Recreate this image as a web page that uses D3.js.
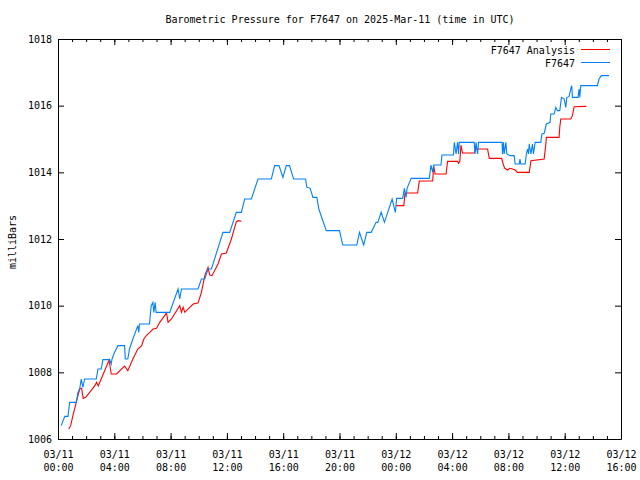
<!DOCTYPE html>
<html><head><meta charset="utf-8">
<script src="https://cdn.jsdelivr.net/npm/d3@7"></script>
<style>
body{margin:0;background:#fff}
text{font-family:"DejaVu Sans Mono",monospace;font-size:10px;fill:#000}
</style>
</head><body>
<svg id="c" width="640" height="480"></svg>
<script>
const titleText = "Barometric Pressure for F7647 on 2025-Mar-11 (time in UTC)";
const yLabel = "milliBars";
const seriesNames = ["F7647 Analysis", "F7647"];
const seriesColors = ["#ff0000", "#0080ff"];

// hours since 03/11 00:00 UTC
const majorHours = [0, 4, 8, 12, 16, 20, 24, 28, 32, 36, 40];
const majorDates = ["03/11","03/11","03/11","03/11","03/11","03/11","03/12","03/12","03/12","03/12","03/12"];
const majorTimes = ["00:00","04:00","08:00","12:00","16:00","20:00","00:00","04:00","08:00","12:00","16:00"];
const minorHours = d3.range(0, 41, 1);
const yTicks = [1006, 1008, 1010, 1012, 1014, 1016, 1018];

// F7647 observed
const stationHours = [0.23,0.48,0.71,0.83,1.30,1.42,1.54,1.65,1.77,1.89,2.72,2.84,3.07,3.19,3.67,3.78,3.84,4.02,4.26,4.73,4.78,4.96,5.08,5.32,5.67,5.74,5.79,6.50,6.62,6.74,6.81,6.90,6.97,7.94,8.53,8.65,8.77,9.95,10.19,10.43,10.66,10.90,11.72,12.20,12.67,13.03,13.26,13.74,14.21,15.16,15.39,15.70,15.98,16.22,16.45,16.74,17.59,17.68,17.92,18.11,18.39,18.53,19.06,20.00,20.23,21.23,21.42,21.72,21.94,22.25,22.60,22.72,22.96,23.19,23.74,23.97,24.06,24.49,24.61,24.73,24.80,25.09,26.38,26.50,26.62,26.69,27.21,27.28,28.09,28.16,28.28,28.39,28.46,28.51,29.57,29.62,29.70,29.81,29.88,31.55,31.58,31.65,31.70,31.82,31.89,32.13,32.41,32.48,32.77,32.82,32.88,33.19,33.28,33.36,33.43,33.48,33.60,33.71,33.78,33.90,34.30,34.38,34.54,34.70,34.96,35.01,35.25,35.37,35.48,35.65,35.77,35.96,36.08,36.15,36.31,36.43,36.50,36.55,36.95,37.02,37.07,37.14,38.32,38.44,38.60,39.15];
const stationValues = [1006.40,1006.68,1006.68,1007.10,1007.10,1007.40,1007.50,1007.80,1007.55,1007.80,1007.80,1008.10,1008.10,1008.38,1008.38,1008.25,1008.40,1008.60,1008.80,1008.80,1008.40,1008.40,1008.70,1009.00,1009.40,1009.20,1009.45,1009.45,1010.00,1010.10,1009.80,1010.10,1009.80,1009.80,1010.50,1010.20,1010.50,1010.50,1010.80,1010.80,1011.10,1011.10,1012.20,1012.20,1012.80,1012.80,1013.20,1013.20,1013.80,1013.80,1014.20,1014.20,1013.85,1014.20,1014.20,1013.80,1013.80,1013.55,1013.52,1013.25,1013.25,1012.90,1012.25,1012.25,1011.82,1011.82,1012.20,1011.82,1012.20,1012.20,1012.50,1012.50,1012.80,1012.50,1013.20,1012.80,1013.22,1013.22,1013.52,1013.25,1013.52,1013.82,1013.82,1014.22,1014.00,1014.22,1014.22,1014.52,1014.52,1014.90,1014.55,1014.90,1014.55,1014.90,1014.90,1014.55,1014.90,1014.55,1014.90,1014.90,1014.55,1014.90,1014.55,1014.90,1014.55,1014.50,1014.50,1014.25,1014.25,1014.40,1014.25,1014.25,1014.55,1014.70,1014.55,1014.85,1014.55,1014.85,1014.55,1014.90,1014.90,1015.15,1015.17,1015.45,1015.50,1015.75,1015.75,1015.95,1015.85,1015.85,1016.25,1016.20,1015.95,1016.25,1016.27,1016.50,1016.60,1016.25,1016.25,1016.50,1016.25,1016.60,1016.60,1016.80,1016.90,1016.90];

// F7647 Analysis, first day
const analysisHours1 = [0.76,0.90,1.06,1.42,1.54,1.68,1.79,1.99,2.62,2.74,2.86,2.98,3.63,3.78,4.16,4.73,4.96,5.32,5.67,5.94,6.10,6.31,6.52,6.76,7.00,7.23,7.71,7.82,8.06,8.65,8.77,8.89,9.01,9.60,9.95,10.19,10.43,10.66,10.78,10.94,11.37,11.61,11.96,12.32,12.67,12.82,13.03];
const analysisValues1 = [1006.30,1006.40,1006.70,1007.30,1007.50,1007.52,1007.22,1007.26,1007.60,1007.70,1007.59,1007.71,1008.37,1007.95,1007.95,1008.19,1008.05,1008.40,1008.70,1008.80,1009.00,1009.12,1009.20,1009.30,1009.32,1009.50,1009.78,1009.50,1009.60,1010.00,1009.80,1009.95,1009.80,1010.05,1010.08,1010.40,1010.90,1011.15,1010.92,1010.90,1011.25,1011.55,1011.58,1012.00,1012.52,1012.55,1012.53];
// F7647 Analysis, second day
const analysisHours2 = [24.02,24.57,24.65,25.55,25.67,26.62,26.69,26.79,27.57,27.68,28.39,28.46,28.55,28.63,28.74,29.57,29.70,30.52,30.64,31.52,31.63,31.74,31.94,32.10,32.29,32.48,32.65,33.48,33.60,34.54,34.66,34.70,35.60,35.65,35.72,36.43,36.55,36.67,37.54];
const analysisValues2 = [1013.00,1013.00,1013.38,1013.38,1013.74,1013.74,1014.20,1013.95,1013.95,1014.33,1014.33,1014.27,1014.33,1014.82,1014.58,1014.58,1014.70,1014.70,1014.42,1014.42,1014.25,1014.12,1014.07,1014.12,1014.10,1014.07,1014.00,1014.00,1014.35,1014.40,1014.85,1015.05,1015.05,1015.35,1015.60,1015.60,1015.70,1015.97,1015.98];

const svg = d3.select("#c");
const x = d3.scaleLinear().domain([0, 40]).range([58, 621]);
const y = d3.scaleLinear().domain([1006, 1018]).range([439, 39]);

// title
svg.append("text").attr("x", 340).attr("y", 23).attr("text-anchor", "middle").text(titleText);
// y label
svg.append("text").attr("transform", "translate(16,242) rotate(-90)").attr("text-anchor", "middle").text(yLabel);

// minor x ticks (bottom & top)
svg.append("g").attr("transform", "translate(0,439)")
  .call(d3.axisBottom(x).tickValues(minorHours).tickSize(-3).tickFormat(""))
  .call(g => g.select(".domain").remove());
svg.append("g").attr("transform", "translate(0,39)")
  .call(d3.axisTop(x).tickValues(minorHours).tickSize(-3).tickFormat(""))
  .call(g => g.select(".domain").remove());

// major x ticks
const gx = svg.append("g").attr("transform", "translate(0,439)")
  .call(d3.axisBottom(x).tickValues(majorHours).tickSize(-6).tickSizeOuter(0).tickPadding(10).tickFormat((d, i) => i));
gx.selectAll(".tick text").each(function(d, i) {
  const t = d3.select(this);
  t.text(null).attr("dy", null).attr("y", 19);
  t.append("tspan").attr("x", 0).text(majorDates[i]);
  t.append("tspan").attr("x", 0).attr("dy", 13).text(majorTimes[i]);
});
svg.append("g").attr("transform", "translate(0,39)")
  .call(d3.axisTop(x).tickValues(majorHours).tickSize(-6).tickSizeOuter(0).tickFormat(""));

// y ticks
svg.append("g").attr("transform", "translate(58,0)")
  .call(d3.axisLeft(y).tickValues(yTicks).tickSize(-6).tickSizeOuter(0).tickPadding(6).tickFormat(d3.format("d")));
svg.append("g").attr("transform", "translate(621,0)")
  .call(d3.axisRight(y).tickValues(yTicks).tickSize(-6).tickSizeOuter(0).tickFormat(""));

svg.selectAll(".domain").attr("stroke", "#000");
svg.selectAll(".tick line").attr("stroke", "#000");
svg.selectAll(".tick text").attr("font-family", "DejaVu Sans Mono").attr("font-size", 10).attr("fill", "#000");

const line = d3.line().x(d => x(d[0])).y(d => y(d[1]));
const zip = (a, b) => a.map((v, i) => [v, b[i]]);

const plot = svg.append("g");
plot.append("path").datum(zip(analysisHours1, analysisValues1))
  .attr("d", line).attr("fill", "none").attr("stroke", seriesColors[0]).attr("stroke-width", 1.1);
plot.append("path").datum(zip(analysisHours2, analysisValues2))
  .attr("d", line).attr("fill", "none").attr("stroke", seriesColors[0]).attr("stroke-width", 1.1);
plot.append("path").datum(zip(stationHours, stationValues))
  .attr("d", line).attr("fill", "none").attr("stroke", seriesColors[1]).attr("stroke-width", 1.1);

// legend
const leg = svg.append("g");
seriesNames.forEach((name, i) => {
  const yy = 50 + i * 13;
  leg.append("text").attr("x", 575).attr("y", yy + 4).attr("text-anchor", "end").text(name);
  leg.append("line").attr("x1", 581).attr("x2", 610).attr("y1", yy - 0.5).attr("y2", yy - 0.5)
    .attr("stroke", seriesColors[i]).attr("stroke-width", 1);
});
</script>
</body></html>
